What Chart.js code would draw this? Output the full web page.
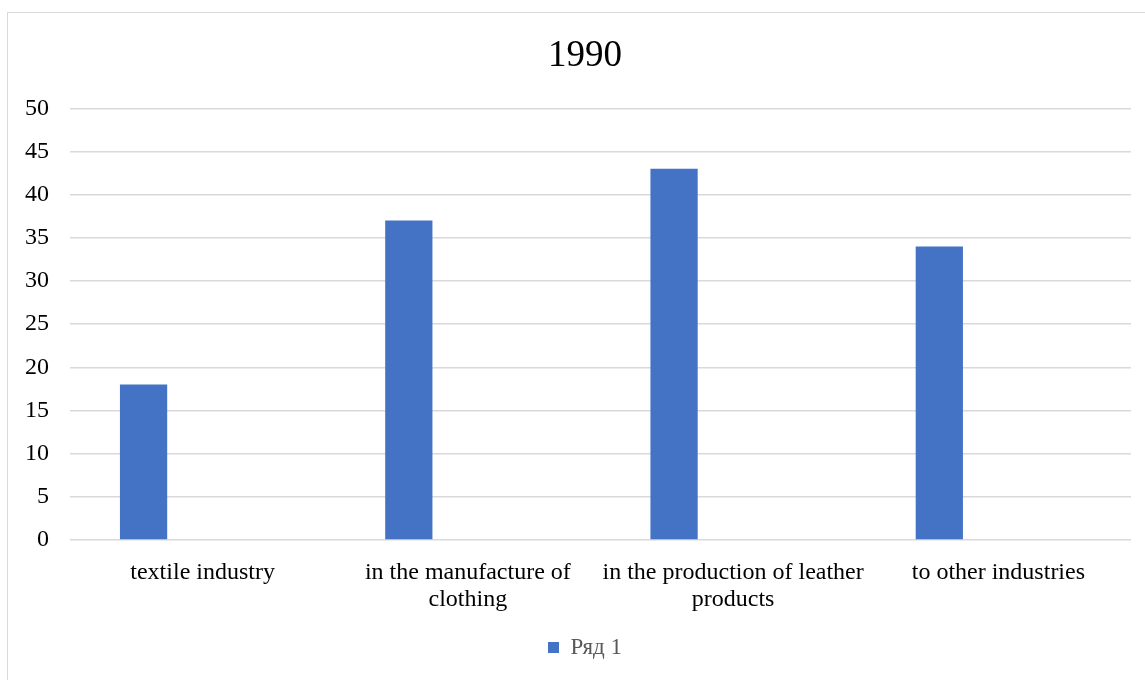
<!DOCTYPE html>
<html>
<head>
<meta charset="utf-8">
<script src="https://cdn.jsdelivr.net/npm/chart.js@4/dist/chart.umd.min.js"></script>
<style>
  body { margin: 0; background: #fff; overflow: hidden; }
  #frame { position: absolute; left: 7px; top: 12px; width: 1160px; height: 700px; border: 1px solid #d9d9d9; }
  #wrap { position: absolute; left: 0; top: 0; width: 1170px; height: 680px; }
</style>
</head>
<body>
<div id="frame"></div>
<div id="wrap"><canvas id="chart"></canvas></div>
<script>
const chartTitle = "1990";
const categories = [
  ["textile industry"],
  ["in the manufacture of", "clothing"],
  ["in the production of leather", "products"],
  ["to other industries"]
];
const seriesNames = ["Ряд 1", "Ряд 2", "Ряд 3"];
const series1 = [18, 37, 43, 34];
// the other two series are empty in the source, they only hold the space
const series2 = [null, null, null, null];
const series3 = [null, null, null, null];

const ctx = document.querySelector("#chart");
const serif = "'Liberation Serif', 'Times New Roman', serif";

new Chart(ctx, {
  type: "bar",
  data: {
    labels: categories,
    datasets: [
      { label: seriesNames[0], data: series1, backgroundColor: "#4472c4" },
      { label: seriesNames[1], data: series2, backgroundColor: "#ed7d31" },
      { label: seriesNames[2], data: series3, backgroundColor: "#a5a5a5" }
    ]
  },
  options: {
    responsive: true,
    maintainAspectRatio: false,
    animation: false,
    categoryPercentage: 0.668,
    barPercentage: 0.8,
    layout: { padding: { left: 0, right: 0, top: 0, bottom: 11 } },
    plugins: {
      title: {
        display: true,
        text: chartTitle,
        color: "#000",
        font: { family: serif, size: 37, weight: "normal", lineHeight: 1.2 },
        padding: { top: 34, bottom: 30 }
      },
      legend: {
        position: "bottom",
        labels: {
          filter: item => item.datasetIndex === 0,
          color: "#595959",
          font: { family: serif, size: 23 },
          boxWidth: 11,
          boxHeight: 11,
          padding: 10
        }
      },
      tooltip: { enabled: false }
    },
    scales: {
      x: {
        grid: { display: false },
        border: { display: false },
        ticks: {
          color: "#000",
          font: { family: serif, size: 24, lineHeight: 1.125 },
          padding: 11,
          maxRotation: 0,
          autoSkip: false
        },
        afterFit: scale => { scale.height = 86; }
      },
      y: {
        min: 0,
        max: 50,
        grid: { color: "#d9d9d9", lineWidth: 1.5, drawTicks: false },
        border: { display: false },
        ticks: {
          stepSize: 5,
          color: "#000",
          font: { family: serif, size: 24 },
          padding: 21
        },
        afterFit: scale => { scale.width = 70; }
      },
      // empty right-hand spacer so the plot ends where the source does
      spacer: {
        position: "right",
        grid: { display: false },
        border: { display: false },
        ticks: { display: false },
        afterFit: scale => { scale.width = 39; }
      }
    }
  }
});
</script>
</body>
</html>
